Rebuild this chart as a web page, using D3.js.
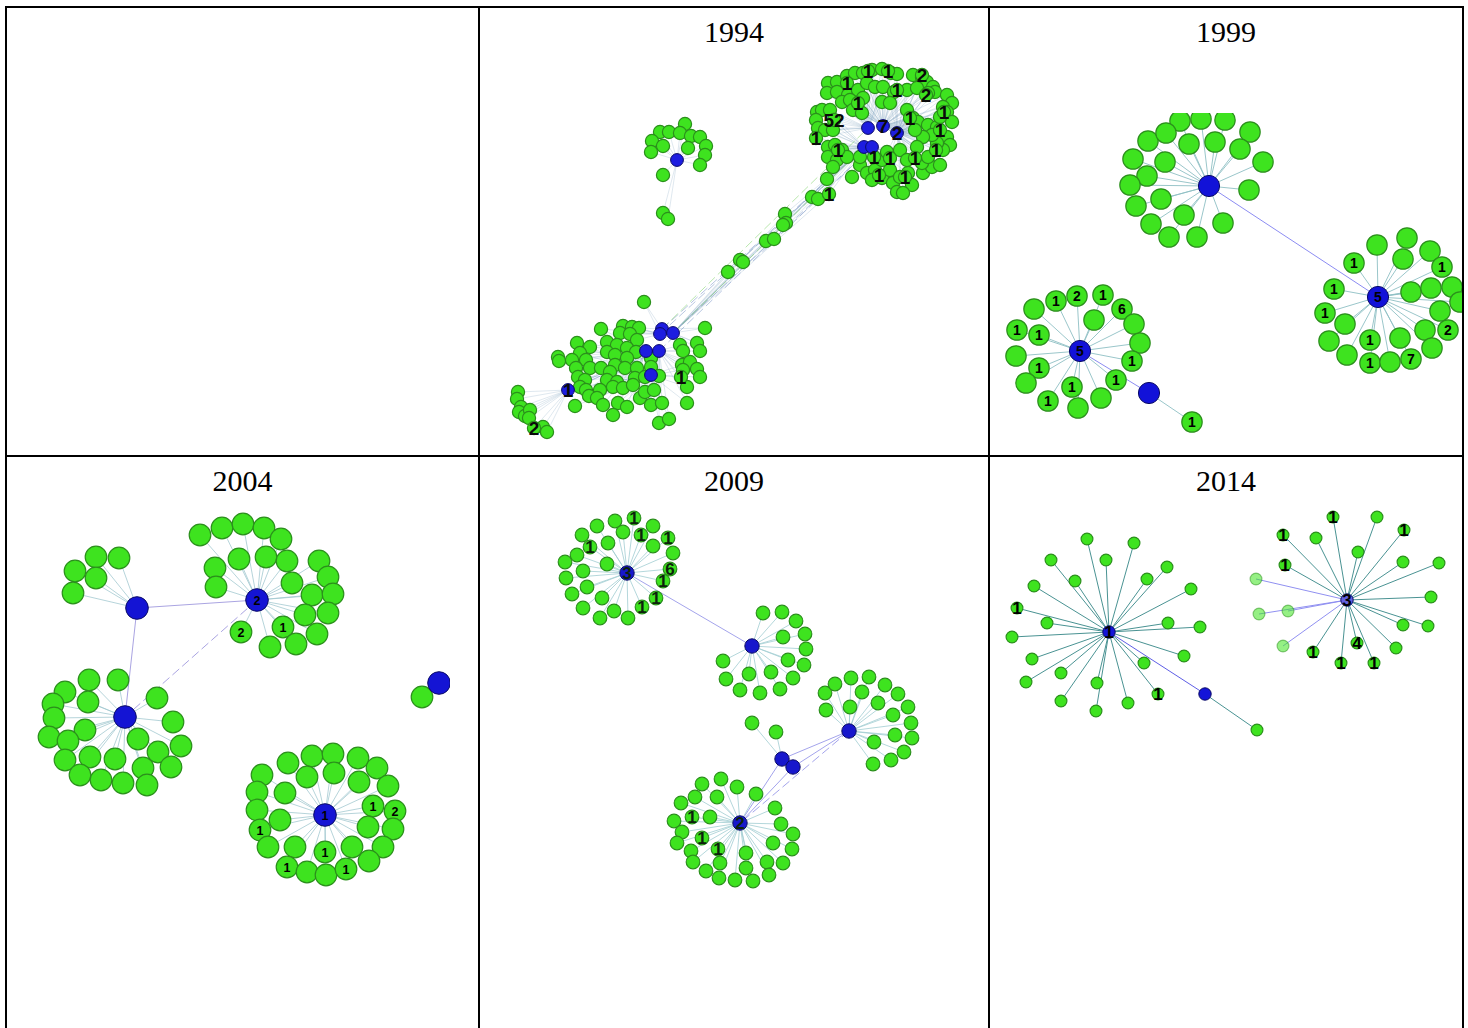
<!DOCTYPE html>
<html>
<head>
<meta charset="utf-8">
<script src="https://cdn.jsdelivr.net/npm/d3@7"></script>
<style>
  html, body { margin: 0; padding: 0; background: #ffffff; }
  svg { display: block; }
</style>
</head>
<body>
<svg id="fig" width="1468" height="1028"></svg>
<script>
// ---------------------------------------------------------------
// Panel titles (row-major: row 1 = blank, 1994, 1999; row 2 = 2004, 2009, 2014)
// ---------------------------------------------------------------
const panelYears = ["", "1994", "1999", "2004", "2009", "2014"];

// Node tables. Hubs: [x, y, group, label]; leaves: [x, y, group, label, faded]
// Coordinates are layout units of the network drawing in each cell.
// Links between hubs: [hubIndexA, hubIndexB, kind]

// ---- 1994 ----
const hubs1994 = [
  [868,128,"T",""],[883,126,"T","7"],[897,133,"T","2"],[864,147,"T",""],[872,147,"T",""],
  [662,329,"B",""],[660,334,"B",""],[673,333,"B",""],[646,351,"B",""],[659,351,"B",""],[651,375,"B",""],
  [677,160,"S",""],
  [568,390,"L","1"]
];
const leaves1994 = [
  // small upper cluster
  [685,124,"S"],[660,132,"S"],[669,132,"S"],[680,133,"S"],[691,136,"S"],[700,137,"S"],[652,141,"S"],[663,146,"S"],
  [688,148,"S"],[706,146,"S"],[651,152,"S"],[705,155,"S"],[700,165,"S"],[663,175,"S"],[663,213,"S"],[668,219,"S"],
  // bridge
  [827,179,"X"],[812,197,"X"],[818,199,"X"],[829,194,"X","1"],[785,214,"X"],[786,223,"X"],[783,225,"X"],
  [766,241,"X"],[774,239,"X"],[740,260,"X"],[743,262,"X"],[728,272,"X"],
  // upper-right cluster
  [828,83,"T"],[837,82,"T"],[847,76,"T"],[855,73,"T"],[863,73,"T"],[872,70,"T"],[882,69,"T"],[891,73,"T"],[897,74,"T"],
  [913,75,"T"],[922,77,"T"],[927,82,"T"],[933,87,"T"],[935,92,"T"],
  [827,93,"T"],[837,92,"T"],[848,95,"T"],[858,90,"T"],[867,83,"T"],[875,87,"T"],[883,87,"T"],[894,92,"T"],[907,90,"T"],
  [917,88,"T"],[928,93,"T"],
  [842,102,"T"],[850,100,"T"],[863,98,"T"],[882,102,"T"],[890,103,"T"],[853,110,"T"],[862,113,"T"],[947,95,"T"],
  [952,103,"T"],[943,107,"T"],
  [817,112,"T"],[822,110,"T"],[830,110,"T"],[816,120,"T"],[818,128,"T"],[825,130,"T"],[833,130,"T"],
  [907,110,"T"],[913,118,"T"],[918,122,"T"],[928,125,"T"],[937,127,"T"],[947,112,"T"],[952,122,"T"],[940,117,"T"],
  [947,137,"T"],[950,145,"T"],[943,150,"T"],[937,143,"T"],[932,135,"T"],[923,137,"T"],[917,147,"T"],[915,130,"T"],
  [828,147,"T"],[835,145,"T"],[842,150,"T"],[828,157,"T"],[837,160,"T"],[847,157,"T"],[833,167,"T"],
  [852,177,"T"],[860,165,"T"],[867,173,"T"],[875,170,"T"],[872,180,"T"],[882,178,"T"],[890,170,"T"],[893,183,"T"],
  [900,177,"T"],[908,173,"T"],[912,185,"T"],[897,192,"T"],[903,193,"T"],[923,173,"T"],[932,167,"T"],[940,165,"T"],
  [922,163,"T"],[928,157,"T"],[860,157,"T"],[882,160,"T"],[887,152,"T"],[900,150,"T"],[907,160,"T"],
  [847,83,"T","1"],[868,71,"T","1"],[888,71,"T","1"],[897,90,"T","1"],[922,75,"T","2"],[926,95,"T","2"],
  [858,103,"T","1"],[834,120,"T","52"],[816,138,"T","1"],[910,118,"T","1"],[944,112,"T","1"],
  [940,130,"T","1"],[936,150,"T","1"],[915,158,"T","1"],[838,150,"T","1"],[874,157,"T","1"],[890,158,"T","1"],
  [879,175,"T","1"],[905,177,"T","1"],
  // lower cluster
  [644,302,"B"],[601,329,"B"],[623,326,"B"],[632,327,"B"],[639,328,"B"],[620,333,"B"],[630,334,"B"],[637,340,"B"],
  [607,342,"B"],[617,345,"B"],[627,348,"B"],[636,352,"B"],[577,343,"B"],[590,347,"B"],[580,353,"B"],[607,352,"B"],
  [615,355,"B"],[627,358,"B"],[705,328,"B"],[680,345,"B"],[697,343,"B"],[683,351,"B"],[700,351,"B"],[651,358,"B"],
  [651,367,"B"],[558,357,"B"],[559,361,"B"],[572,360,"B"],[586,360,"B"],[576,368,"B"],[590,368,"B"],[601,368,"B"],
  [615,365,"B"],[625,368,"B"],[637,368,"B"],[610,372,"B"],[578,377,"B"],[585,380,"B"],[607,380,"B"],[617,382,"B"],
  [635,378,"B"],[645,377,"B"],[659,376,"B"],[682,365,"B"],[690,362,"B"],[697,369,"B"],[700,377,"B"],[683,370,"B"],
  [687,387,"B"],[580,387,"B"],[586,390,"B"],[600,390,"B"],[613,387,"B"],[623,388,"B"],[633,385,"B"],[589,396,"B"],
  [597,398,"B"],[618,403,"B"],[627,407,"B"],[640,398,"B"],[645,392,"B"],[654,390,"B"],[651,405,"B"],[662,403,"B"],
  [687,403,"B"],[575,406,"B"],[603,405,"B"],[613,415,"B"],[659,423,"B"],[669,419,"B"],[681,377,"B","1"],
  // far-left fan
  [518,392,"L"],[517,399,"L"],[521,407,"L"],[519,412,"L"],[525,416,"L"],[530,410,"L"],[529,418,"L"],[543,427,"L"],
  [547,432,"L"],[534,428,"L","2"]
];
const links1994 = [
  [5,3,"dash"],[7,4,"dash"],[6,3,"dash"],[9,4,"dash"],[5,0,"green"],[7,3,"green"],
  [12,8,"dash"],[12,10,"dash"],[12,9,"dash"]
];

// ---- 1999 ----
const hubs1999 = [
  [1209,186,"a",""],[1378,297,"b","5"],[1080,351,"c","5"],[1149,393,"d",""]
];
const leaves1999 = [
  [1180,121,"a"],[1201,119,"a"],[1225,120,"a"],[1250,132,"a"],[1148,141,"a"],[1166,133,"a"],[1189,144,"a"],
  [1215,142,"a"],[1240,149,"a"],[1263,162,"a"],[1133,159,"a"],[1165,162,"a"],[1147,176,"a"],[1130,185,"a"],
  [1249,190,"a"],[1136,206,"a"],[1161,199,"a"],[1184,215,"a"],[1223,223,"a"],[1151,224,"a"],[1169,237,"a"],[1197,237,"a"],
  [1377,245,"b"],[1407,238,"b"],[1354,263,"b","1"],[1403,259,"b"],[1430,251,"b"],[1442,267,"b","1"],[1334,289,"b","1"],
  [1411,292,"b"],[1431,288,"b"],[1452,287,"b"],[1460,302,"b"],[1325,313,"b","1"],[1440,311,"b"],[1345,324,"b"],
  [1329,341,"b"],[1370,340,"b","1"],[1400,338,"b"],[1425,330,"b"],[1448,330,"b","2"],[1347,355,"b"],[1370,363,"b","1"],
  [1390,362,"b"],[1411,359,"b","7"],[1432,348,"b"],
  [1034,309,"c"],[1056,301,"c","1"],[1077,296,"c","2"],[1103,295,"c","1"],[1122,309,"c","6"],[1094,320,"c"],
  [1134,324,"c"],[1017,330,"c","1"],[1039,335,"c","1"],[1140,343,"c"],[1016,356,"c"],[1132,361,"c","1"],
  [1039,368,"c","1"],[1026,383,"c"],[1116,380,"c","1"],[1072,387,"c","1"],[1101,398,"c"],[1048,401,"c","1"],[1078,408,"c"],
  [1192,422,"d","1"]
];
const links1999 = [[0,1,"solid"],[2,3,"solid"]];

// ---- 2004 ----
const hubs2004 = [
  [137,608,"A",""],[257,600,"B","2"],[125,717,"C",""],[439,683,"D",""],[325,815,"E","1"]
];
const leaves2004 = [
  [96,557,"A"],[119,558,"A"],[75,571,"A"],[96,578,"A"],[73,593,"A"],
  [200,535,"B"],[222,528,"B"],[243,524,"B"],[264,528,"B"],[281,539,"B"],[215,568,"B"],[239,559,"B"],[266,557,"B"],
  [287,561,"B"],[319,561,"B"],[216,587,"B"],[292,583,"B"],[328,577,"B"],[312,595,"B"],[333,594,"B"],[305,615,"B"],
  [328,613,"B"],[241,632,"B","2"],[283,627,"B","1"],[270,647,"B"],[296,644,"B"],[317,634,"B"],
  [89,680,"C"],[118,680,"C"],[157,698,"C"],[65,692,"C"],[88,702,"C"],[53,704,"C"],[54,718,"C"],[85,730,"C"],
  [173,722,"C"],[49,737,"C"],[68,741,"C"],[138,739,"C"],[181,746,"C"],[65,760,"C"],[90,757,"C"],[115,759,"C"],
  [158,752,"C"],[80,775,"C"],[101,780,"C"],[123,783,"C"],[143,768,"C"],[171,767,"C"],[147,785,"C"],
  [422,697,"D"],
  [288,763,"E"],[312,756,"E"],[333,754,"E"],[358,758,"E"],[377,768,"E"],[262,775,"E"],[307,777,"E"],[334,773,"E"],
  [359,782,"E"],[388,786,"E"],[257,792,"E"],[285,793,"E"],[373,806,"E","1"],[395,811,"E","2"],[257,810,"E"],
  [280,820,"E"],[368,827,"E"],[393,829,"E"],[260,830,"E","1"],[268,847,"E"],[295,847,"E"],[325,852,"E","1"],
  [352,847,"E"],[383,847,"E"],[369,861,"E"],[287,867,"E","1"],[307,872,"E"],[326,875,"E"],[346,869,"E","1"]
];
const links2004 = [[0,1,"solid"],[0,2,"solid"],[1,2,"dash"]];

// ---- 2009 ----
const hubs2009 = [
  [627,573,"A","3"],[752,646,"B",""],[849,731,"C",""],[782,759,"D",""],[793,767,"E",""],[740,823,"F","2"]
];
const leaves2009 = [
  [597,526,"A"],[615,521,"A"],[634,518,"A","1"],[653,526,"A"],[582,535,"A"],[623,532,"A"],[641,535,"A","1"],
  [668,538,"A","1"],[590,547,"A","1"],[608,543,"A"],[653,546,"A"],[673,553,"A"],[577,555,"A"],[565,562,"A"],
  [607,564,"A"],[583,571,"A"],[670,569,"A","6"],[566,578,"A"],[663,581,"A","1"],[587,587,"A"],[572,594,"A"],
  [602,598,"A"],[656,598,"A","1"],[583,608,"A"],[614,611,"A"],[642,607,"A","1"],[600,618,"A"],[628,618,"A"],
  [763,613,"B"],[782,612,"B"],[796,621,"B"],[783,637,"B"],[805,634,"B"],[806,649,"B"],[723,661,"B"],[788,660,"B"],
  [804,665,"B"],[726,679,"B"],[749,674,"B"],[771,672,"B"],[793,678,"B"],[740,690,"B"],[760,693,"B"],[780,689,"B"],
  [825,693,"C"],[835,684,"C"],[851,678,"C"],[869,677,"C"],[885,685,"C"],[898,694,"C"],[862,692,"C"],[826,710,"C"],
  [850,707,"C"],[878,703,"C"],[908,707,"C"],[893,715,"C"],[911,723,"C"],[895,735,"C"],[912,738,"C"],[874,742,"C"],
  [904,752,"C"],[891,760,"C"],[873,764,"C"],
  [752,723,"D"],[776,732,"D"],
  [702,784,"F"],[721,779,"F"],[737,787,"F"],[756,794,"F"],[681,803,"F"],[695,797,"F"],[717,797,"F"],[775,808,"F"],
  [674,821,"F"],[692,817,"F","1"],[710,817,"F"],[781,824,"F"],[682,832,"F"],[702,838,"F","1"],[793,834,"F"],
  [677,843,"F"],[691,851,"F"],[718,849,"F","1"],[746,853,"F"],[773,843,"F"],[792,849,"F"],[693,862,"F"],[720,863,"F"],
  [746,868,"F"],[767,862,"F"],[783,863,"F"],[706,871,"F"],[719,878,"F"],[735,880,"F"],[753,881,"F"],[769,875,"F"]
];
const links2009 = [[0,1,"solid"],[3,2,"solid"],[4,2,"solid"],[3,5,"solid"],[4,5,"solid"],[2,5,"dash"]];

// ---- 2014 ----
const hubs2014 = [
  [1109,632,"A","1"],[1205,694,"B",""],[1347,600,"C","3"]
];
const leaves2014 = [
  [1087,539,"A"],[1134,543,"A"],[1051,560,"A"],[1106,560,"A"],[1167,567,"A"],[1075,581,"A"],[1147,579,"A"],
  [1034,586,"A"],[1191,589,"A"],[1017,608,"A","1"],[1047,623,"A"],[1168,623,"A"],[1200,627,"A"],[1012,637,"A"],
  [1032,659,"A"],[1184,656,"A"],[1144,663,"A"],[1061,673,"A"],[1026,682,"A"],[1097,683,"A"],[1158,694,"A","1"],
  [1061,701,"A"],[1128,703,"A"],[1096,711,"A"],
  [1257,730,"B"],
  [1333,517,"C","1"],[1377,517,"C"],[1283,535,"C","1"],[1316,538,"C"],[1404,530,"C","1"],[1358,552,"C"],
  [1285,565,"C","1"],[1403,562,"C"],[1439,563,"C"],[1256,579,"C","",true],[1431,597,"C"],[1259,614,"C","",true],
  [1288,611,"C","",true],[1403,625,"C"],[1428,626,"C"],[1283,646,"C","",true],[1357,643,"C","4"],[1396,648,"C"],
  [1313,652,"C","1"],[1341,663,"C","1"],[1374,663,"C","1"]
];
const links2014 = [[0,1,"solid"]];

// ---------------------------------------------------------------
// Table geometry and per-panel drawing styles
// ---------------------------------------------------------------
const W = 1468, H = 1028;
const colEdges = [6, 479, 989, 1463];
const rowEdges = [7, 456, H + 10];

const panelStyles = {
  "1994": { hubs: hubs1994, leaves: leaves1994, links: links1994, leafR: 6.6, hubR: 6.4, fan: 2,
            edge: "#86aac4", edgeOp: 0.45, edgeW: 0.6, link: "#7d98c8", linkOp: 0.55,
            hubFill: "#1d1de0", font: 19, labelColor: "#0a0a0a" },
  "1999": { hubs: hubs1999, leaves: leaves1999, links: links1999, leafR: 10.2, hubR: 10.6, fan: 1,
            edge: "#8fc0c4", edgeOp: 0.9, edgeW: 1, link: "#8c8cf2", linkOp: 1,
            hubFill: "#1212d8", font: 14, labelColor: "#000000",
            clip: [991, 113, 1462, 455] },
  "2004": { hubs: hubs2004, leaves: leaves2004, links: links2004, leafR: 10.8, hubR: 11.3, fan: 1,
            edge: "#9fc6cf", edgeOp: 0.85, edgeW: 0.9, link: "#aaa4e2", linkOp: 1,
            hubFill: "#1414d4", font: 12.5, labelColor: "#000000",
            clip: [7, 457, 450, 1028] },
  "2009": { hubs: hubs2009, leaves: leaves2009, links: links2009, leafR: 6.8, hubR: 7.2, fan: 1,
            edge: "#a2cdd2", edgeOp: 0.9, edgeW: 0.9, link: "#a4a4ec", linkOp: 1,
            hubFill: "#1717cc", font: 17, labelColor: "#0c220c" },
  "2014": { hubs: hubs2014, leaves: leaves2014, links: links2014, leafR: 5.9, hubR: 6.2, fan: 1,
            edge: "#3f8c8c", edgeOp: 0.95, edgeW: 1, link: "#5e5ee6", linkOp: 1,
            hubFill: "#1414d8", font: 17, labelColor: "#000000",
            fadeEdge: "#8a8af0" }
};

const LEAF_FILL = "#3ee31f", LEAF_STROKE = "#2b8f1c";
const HUB_STROKE = "#0b0b66";

const svg = d3.select("#fig");
svg.append("rect").attr("width", W).attr("height", H).attr("fill", "#ffffff");

const defs = svg.append("defs");

// ---------------------------------------------------------------
// Draw the networks
// ---------------------------------------------------------------
panelYears.forEach((year, i) => {
  const col = i % 3, row = Math.floor(i / 3);
  const x0 = colEdges[col], x1 = colEdges[col + 1];
  const y0 = rowEdges[row], y1 = rowEdges[row + 1];
  const g = svg.append("g").attr("class", "panel");

  // title
  if (year) {
    g.append("text")
      .attr("x", (x0 + x1) / 2)
      .attr("y", y0 + 35)
      .attr("text-anchor", "middle")
      .attr("font-family", "'Liberation Serif', 'Times New Roman', serif")
      .attr("font-size", 30)
      .attr("fill", "#000")
      .text(year);
  }
  const st = panelStyles[year];
  if (!st) return;

  // layout units map onto the cell through linear scales
  const sx = d3.scaleLinear().domain([x0, x1]).range([x0, x1]);
  const sy = d3.scaleLinear().domain([y0, y1]).range([y0, y1]);

  const net = g.append("g");
  if (st.clip) {
    const id = "clip" + year;
    defs.append("clipPath").attr("id", id).append("rect")
      .attr("x", st.clip[0]).attr("y", st.clip[1])
      .attr("width", st.clip[2] - st.clip[0]).attr("height", st.clip[3] - st.clip[1]);
    net.attr("clip-path", `url(#${id})`);
  }

  const hubs = st.hubs.map(h => ({ x: sx(h[0]), y: sy(h[1]), group: h[2], label: h[3] || "" }));
  const leaves = st.leaves.map(l => ({ x: sx(l[0]), y: sy(l[1]), group: l[2], label: l[3] || "", faded: !!l[4] }));

  // spokes: each leaf to the nearest hub(s) of its group; bridge nodes reach both ends
  const spokes = [];
  leaves.forEach(l => {
    if (l.group === "X") {
      ["T", "B"].forEach(gk => {
        const cand = hubs.filter(h => h.group === gk);
        const h = d3.least(cand, c => Math.hypot(c.x - l.x, c.y - l.y));
        spokes.push({ s: l, t: h, faded: false });
      });
      return;
    }
    hubs.filter(h => h.group === l.group)
      .sort((a, b) => Math.hypot(a.x - l.x, a.y - l.y) - Math.hypot(b.x - l.x, b.y - l.y))
      .slice(0, st.fan)
      .forEach(h => spokes.push({ s: l, t: h, faded: l.faded }));
  });

  net.append("g").selectAll("line").data(spokes).join("line")
    .attr("x1", d => d.s.x).attr("y1", d => d.s.y)
    .attr("x2", d => d.t.x).attr("y2", d => d.t.y)
    .attr("stroke", d => d.faded ? st.fadeEdge : st.edge)
    .attr("stroke-opacity", st.edgeOp)
    .attr("stroke-width", st.edgeW);

  // hub-to-hub links
  net.append("g").selectAll("line").data(st.links).join("line")
    .attr("x1", d => hubs[d[0]].x).attr("y1", d => hubs[d[0]].y)
    .attr("x2", d => hubs[d[1]].x).attr("y2", d => hubs[d[1]].y)
    .attr("stroke", d => d[2] === "green" ? "#7fd36a" : st.link)
    .attr("stroke-opacity", st.linkOp)
    .attr("stroke-width", 1)
    .attr("stroke-dasharray", d => (d[2] === "dash" || d[2] === "green") ? "9,4" : null);

  // leaves
  net.append("g").selectAll("circle").data(leaves).join("circle")
    .attr("cx", d => d.x).attr("cy", d => d.y).attr("r", st.leafR)
    .attr("fill", LEAF_FILL)
    .attr("fill-opacity", d => d.faded ? 0.55 : 1)
    .attr("stroke", LEAF_STROKE)
    .attr("stroke-opacity", d => d.faded ? 0.5 : 1)
    .attr("stroke-width", 1.2);

  // hubs
  net.append("g").selectAll("circle").data(hubs).join("circle")
    .attr("cx", d => d.x).attr("cy", d => d.y).attr("r", st.hubR)
    .attr("fill", d => (year === "2014" && d.label === "3") ? "#6262e0" : st.hubFill)
    .attr("stroke", HUB_STROKE)
    .attr("stroke-width", 1);

  // node labels
  const labelled = leaves.concat(hubs).filter(d => d.label);
  net.append("g").selectAll("text").data(labelled).join("text")
    .attr("x", d => d.x).attr("y", d => d.y)
    .attr("dy", "0.36em")
    .attr("text-anchor", "middle")
    .attr("font-family", "'Liberation Sans', Arial, sans-serif")
    .attr("font-weight", "bold")
    .attr("font-size", st.font)
    .attr("fill", st.labelColor)
    .text(d => d.label);
});

// ---------------------------------------------------------------
// Table rules
// ---------------------------------------------------------------
const rules = svg.append("g").attr("stroke", "#000").attr("stroke-width", 2);
colEdges.forEach(x => rules.append("line").attr("x1", x).attr("x2", x).attr("y1", rowEdges[0] - 1).attr("y2", H));
rowEdges.slice(0, 2).forEach(y => rules.append("line").attr("x1", colEdges[0] - 1).attr("x2", colEdges[3] + 1).attr("y1", y).attr("y2", y));
</script>
</body>
</html>
